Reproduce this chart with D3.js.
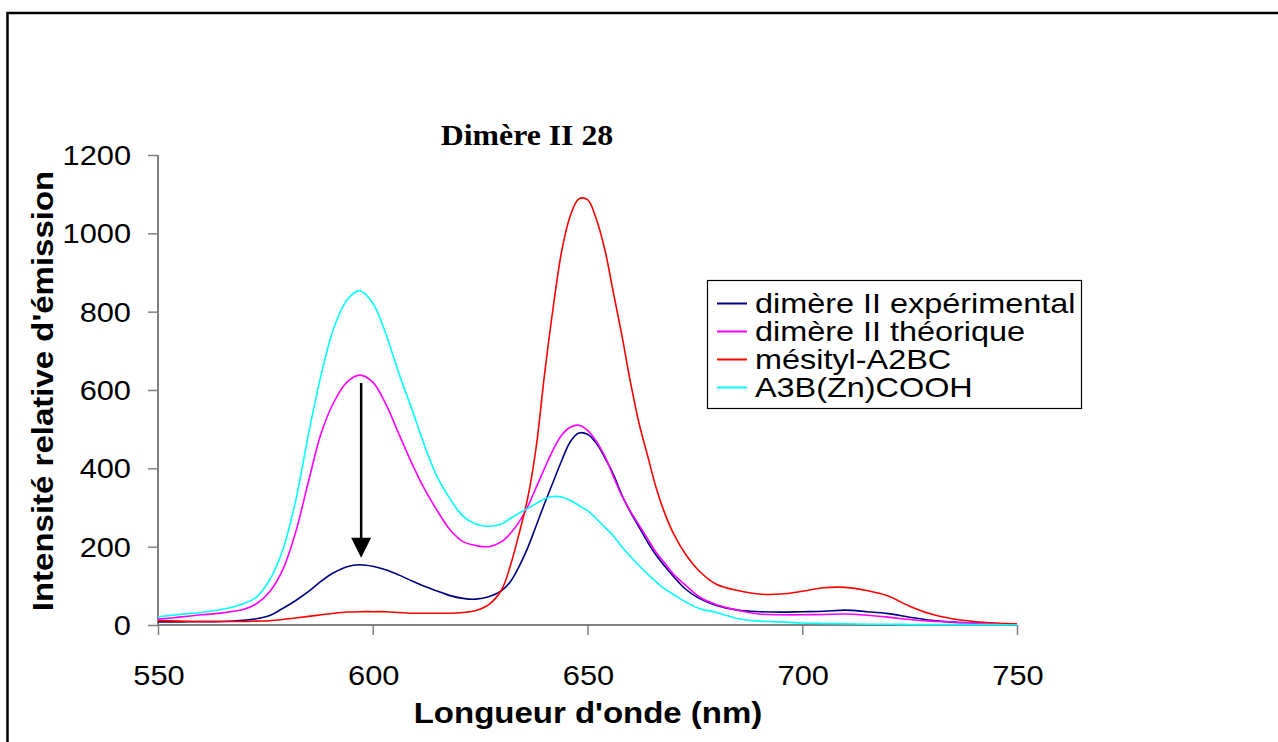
<!DOCTYPE html>
<html><head><meta charset="utf-8">
<script src="https://cdn.jsdelivr.net/npm/d3@7"></script>
<style>body{margin:0;background:#fff}svg{display:block}</style>
</head><body><svg id="c" width="1278" height="742"></svg>
<script>
const wavelengths = [550,555,560,565,570,573,576,579,582,585,588,591,594,597,600,603,606,609,612,615,618,621,624,627,630,632,634,636,638,640,642,644,646,648,650,652,654,656,658,660,662,664,666,668,670,673,676,680,685,690,695,700,705,710,715,720,725,730,735,740,745,750];
const experimental = [8,8,8.5,9,12,16,24,42,62,85,112,134,149,154,150,141,128,113,99,87,75,68,66,72,88,110,148,195,252,310,365,420,468,490,487,465,428,385,332,288,250,212,178,150,124,90,68,50,38,34,33,34,35,38,34,29,20,12,7,5,3,2];
const theoretical = [15,20,26,31,40,55,85,140,235,365,490,570,620,638,620,565,490,415,348,292,243,213,203,200,213,233,262,300,350,400,447,485,505,510,497,470,432,380,330,290,255,220,185,158,130,100,72,52,38,28,26,26,27,28,25,20,14,10,8,5,3,2];
const mesityl = [11,10,9,9,9,10,11,14,18,22,26,30,33,34,34,34,32,30,30,30,30,32,37,52,90,150,230,320,450,640,810,955,1045,1088,1086,1038,960,850,740,620,515,432,350,285,234,178,138,104,88,79,79,86,95,96,88,74,48,28,16,9,5,3];
const a3b = [21,27,32,40,55,72,115,190,315,485,640,760,830,853,822,745,645,555,460,378,322,278,258,252,258,272,285,297,310,322,328,327,318,305,292,272,250,228,200,175,152,130,110,92,78,58,42,32,16,10,8,5,4,3,2,2,1,1,1,1,1,0];
const seriesNames = ["dimère II expérimental","dimère II théorique","mésityl-A2BC","A3B(Zn)COOH"];
const seriesColors = ["#000080","#FF00FF","#FF0000","#00FFFF"];
const xTicks = [550,600,650,700,750];
const yTicks = [0,200,400,600,800,1000,1200];
const arrowX = 597.3, arrowFrom = 618, arrowTo = 172;
const titleText = "Dimère II 28";
const xTitle = "Longueur d'onde (nm)";
const yTitle = "Intensité relative d'émission";

const seriesValues = [experimental, theoretical, mesityl, a3b];
const svg = d3.select("#c");
const x = d3.scaleLinear().domain([550,750]).range([158,1017]);
const y = d3.scaleLinear().domain([0,1200]).range([625,155]);
const SANS = "'Liberation Sans', Arial, sans-serif";
const SERIF = "'Liberation Serif', 'Times New Roman', serif";

// outer frame
svg.append("path").attr("d","M7.5,760V13H1300").attr("fill","none").attr("stroke","#000").attr("stroke-width",2.5);

// axes
const axisColor = "#808080";
const gx = svg.append("g").attr("transform","translate(0,625)")
  .call(d3.axisBottom(x).tickValues(xTicks).tickSize(10).tickFormat(""));
const gy = svg.append("g").attr("transform","translate(158,0)")
  .call(d3.axisLeft(y).tickValues(yTicks).tickSize(10).tickFormat(""));
[gx,gy].forEach(g=>{
  g.select(".domain").attr("stroke",axisColor).attr("stroke-width",2);
  g.selectAll(".tick line").attr("stroke",axisColor).attr("stroke-width",1.5);
});
gx.select(".domain").attr("d","M158,0H1017");
gy.select(".domain").attr("d","M0,625V155");

// tick labels
xTicks.forEach(t=>{
  svg.append("g").attr("transform",`translate(${x(t)+1},685)`)
    .append("text").attr("transform","scale(1.1,1)").attr("text-anchor","middle")
    .attr("font-family",SANS).attr("font-size",28).attr("fill","#000").text(t);
});
yTicks.forEach(t=>{
  svg.append("g").attr("transform",`translate(131,${y(t)+10})`)
    .append("text").attr("transform","scale(1.1,1)").attr("text-anchor","end")
    .attr("font-family",SANS).attr("font-size",28).attr("fill","#000").text(t);
});

// axis titles
svg.append("g").attr("transform","translate(588,723)")
  .append("text").attr("transform","scale(1.1,1)").attr("text-anchor","middle")
  .attr("font-family",SANS).attr("font-weight","bold").attr("font-size",30).text(xTitle);
svg.append("g").attr("transform","translate(53,391) rotate(-90)")
  .append("text").attr("transform","scale(1.1,1)").attr("text-anchor","middle")
  .attr("font-family",SANS).attr("font-weight","bold").attr("font-size",30).text(yTitle);

// chart title
svg.append("g").attr("transform","translate(527,145)")
  .append("text").attr("transform","scale(1.06,1)").attr("text-anchor","middle")
  .attr("font-family",SERIF).attr("font-weight","bold").attr("font-size",30).text(titleText);

// series
const line = d3.line().x((d,i)=>x(wavelengths[i])).y(d=>y(d)).curve(d3.curveCatmullRom.alpha(0.5));
seriesValues.forEach((vals,k)=>{
  svg.append("path").datum(vals).attr("d",line).attr("fill","none")
    .attr("stroke",seriesColors[k]).attr("stroke-width",1.6);
});

// arrow
const ax = x(arrowX);
svg.append("line").attr("x1",ax).attr("x2",ax).attr("y1",y(arrowFrom)).attr("y2",y(arrowTo)-15)
  .attr("stroke","#000").attr("stroke-width",2.5);
svg.append("path").attr("d",`M${ax-10},${y(arrowTo)-20}L${ax+10},${y(arrowTo)-20}L${ax},${y(arrowTo)}Z`).attr("fill","#000");

// legend
svg.append("rect").attr("x",707.5).attr("y",280.5).attr("width",374).attr("height",128)
  .attr("fill","#fff").attr("stroke","#000").attr("stroke-width",1.2);
seriesNames.forEach((n,k)=>{
  const ry = 303.5 + k*28;
  svg.append("line").attr("x1",717).attr("x2",747).attr("y1",ry).attr("y2",ry)
    .attr("stroke",seriesColors[k]).attr("stroke-width",2);
  svg.append("g").attr("transform",`translate(755,${ry+9.5})`)
    .append("text").attr("transform","scale(1.2,1)")
    .attr("font-family",SANS).attr("font-size",27).attr("fill","#000").text(n);
});
</script></body></html>
